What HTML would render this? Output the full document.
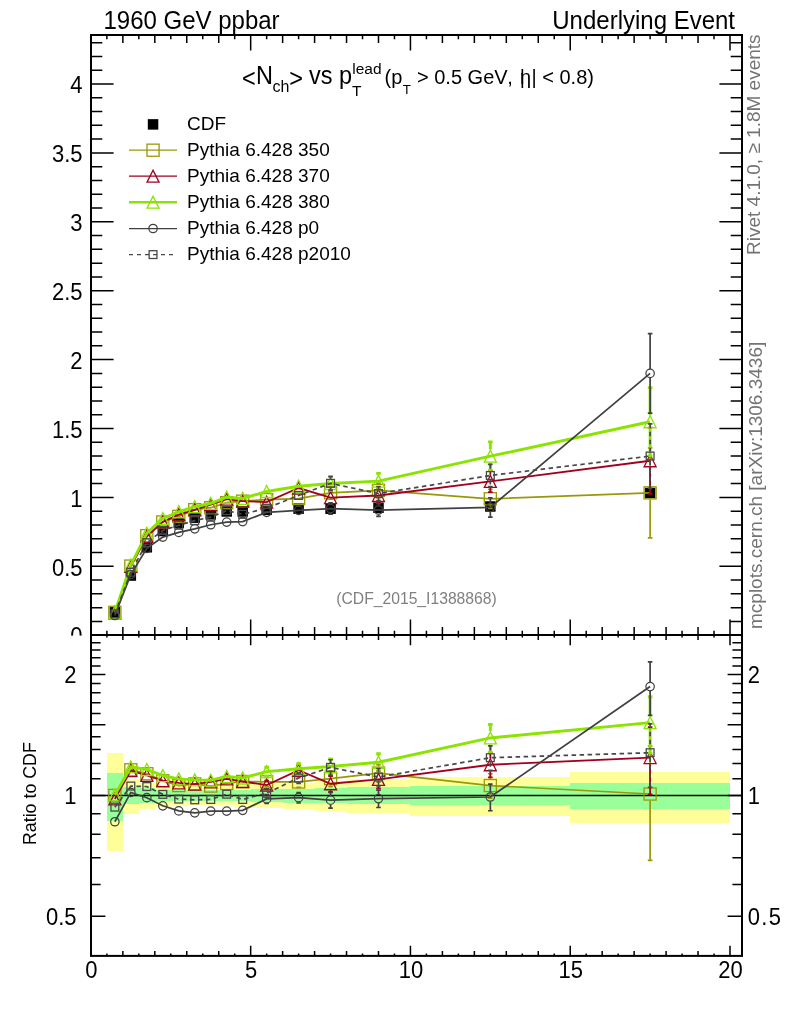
<!DOCTYPE html>
<html><head><meta charset="utf-8"><title>Nch vs pT lead</title>
<style>html,body{margin:0;padding:0;background:#fff;}svg{display:block;}</style>
</head><body>
<svg width="786" height="1024" viewBox="0 0 786 1024" font-family="Liberation Sans, Arial, sans-serif">
<rect width="786" height="1024" fill="#fff"/>
<g id="upper">
<rect x="109.62" y="607.08" width="10.5" height="10.5" fill="#000"/>
<rect x="125.59" y="570.28" width="10.5" height="10.5" fill="#000"/>
<rect x="141.57" y="542.03" width="10.5" height="10.5" fill="#000"/>
<rect x="157.55" y="525.77" width="10.5" height="10.5" fill="#000"/>
<rect x="173.53" y="517.64" width="10.5" height="10.5" fill="#000"/>
<rect x="189.5" y="512.41" width="10.5" height="10.5" fill="#000"/>
<rect x="205.48" y="509.1" width="10.5" height="10.5" fill="#000"/>
<rect x="221.46" y="506.21" width="10.5" height="10.5" fill="#000"/>
<rect x="237.44" y="506.21" width="10.5" height="10.5" fill="#000"/>
<rect x="261.4" y="504.55" width="10.5" height="10.5" fill="#000"/>
<rect x="293.36" y="503.45" width="10.5" height="10.5" fill="#000"/>
<rect x="325.31" y="503.45" width="10.5" height="10.5" fill="#000"/>
<rect x="373.25" y="502.49" width="10.5" height="10.5" fill="#000"/>
<rect x="485.09" y="501.24" width="10.5" height="10.5" fill="#000"/>
<rect x="644.86" y="487.74" width="10.5" height="10.5" fill="#000"/>
<polyline points="114.87,612.33 130.84,566.11 146.82,535.68 162.8,521.96 178.78,516.38 194.75,509.66 210.73,507.7 226.71,502.67 242.69,501.18 266.65,499.64 298.61,498.58 330.56,492.85 378.5,490.4 490.34,498.78 650.11,492.85" fill="none" stroke="#989808" stroke-width="1.7"/>
<rect x="108.82" y="606.28" width="12.1" height="12.1" fill="none" stroke="#989808" stroke-width="1.3"/>
<rect x="124.79" y="560.06" width="12.1" height="12.1" fill="none" stroke="#989808" stroke-width="1.3"/>
<rect x="140.77" y="529.63" width="12.1" height="12.1" fill="none" stroke="#989808" stroke-width="1.3"/>
<rect x="156.75" y="515.91" width="12.1" height="12.1" fill="none" stroke="#989808" stroke-width="1.3"/>
<rect x="172.73" y="510.33" width="12.1" height="12.1" fill="none" stroke="#989808" stroke-width="1.3"/>
<rect x="188.7" y="503.61" width="12.1" height="12.1" fill="none" stroke="#989808" stroke-width="1.3"/>
<rect x="204.68" y="501.65" width="12.1" height="12.1" fill="none" stroke="#989808" stroke-width="1.3"/>
<rect x="220.66" y="496.62" width="12.1" height="12.1" fill="none" stroke="#989808" stroke-width="1.3"/>
<rect x="236.64" y="495.13" width="12.1" height="12.1" fill="none" stroke="#989808" stroke-width="1.3"/>
<rect x="260.6" y="493.59" width="12.1" height="12.1" fill="none" stroke="#989808" stroke-width="1.3"/>
<rect x="292.56" y="492.53" width="12.1" height="12.1" fill="none" stroke="#989808" stroke-width="1.3"/>
<path d="" stroke="#989808" stroke-width="1.7" fill="none"/><path d="M328.26 486.45H332.86M328.26 499.26H332.86" stroke="#989808" stroke-width="1.7" fill="none"/>
<rect x="324.51" y="486.8" width="12.1" height="12.1" fill="none" stroke="#989808" stroke-width="1.3"/>
<path d="M378.5 483.16V483.7M378.5 497.1V497.64" stroke="#989808" stroke-width="1.7" fill="none"/><path d="M376.19 483.16H380.8M376.19 497.64H380.8" stroke="#989808" stroke-width="1.7" fill="none"/>
<rect x="372.44" y="484.35" width="12.1" height="12.1" fill="none" stroke="#989808" stroke-width="1.3"/>
<path d="M490.34 489.23V492.08M490.34 505.48V508.33" stroke="#989808" stroke-width="1.7" fill="none"/><path d="M488.04 489.23H492.64M488.04 508.33H492.64" stroke="#989808" stroke-width="1.7" fill="none"/>
<rect x="484.29" y="492.73" width="12.1" height="12.1" fill="none" stroke="#989808" stroke-width="1.3"/>
<path d="M650.11 447.87V486.15M650.11 499.55V537.83" stroke="#989808" stroke-width="1.7" fill="none"/><path d="M647.81 447.87H652.41M647.81 537.83H652.41" stroke="#989808" stroke-width="1.7" fill="none"/>
<rect x="644.06" y="486.8" width="12.1" height="12.1" fill="none" stroke="#989808" stroke-width="1.3"/>
<polyline points="114.87,612.78 130.84,566.4 146.82,536.56 162.8,521.86 178.78,514.58 194.75,509.78 210.73,504.68 226.71,499.2 242.69,501.18 266.65,502.15 298.61,488.03 330.56,497.61 378.5,495.5 490.34,481.42 650.11,460.75" fill="none" stroke="#a3001f" stroke-width="1.8"/>
<path d="M108.87 618.78L120.87 618.78L114.87 606.78Z" fill="none" stroke="#a3001f" stroke-width="1.3" stroke-linejoin="miter"/>
<path d="M124.84 572.4L136.84 572.4L130.84 560.4Z" fill="none" stroke="#a3001f" stroke-width="1.3" stroke-linejoin="miter"/>
<path d="M140.82 542.56L152.82 542.56L146.82 530.56Z" fill="none" stroke="#a3001f" stroke-width="1.3" stroke-linejoin="miter"/>
<path d="M156.8 527.86L168.8 527.86L162.8 515.86Z" fill="none" stroke="#a3001f" stroke-width="1.3" stroke-linejoin="miter"/>
<path d="M172.78 520.58L184.78 520.58L178.78 508.58Z" fill="none" stroke="#a3001f" stroke-width="1.3" stroke-linejoin="miter"/>
<path d="M188.75 515.78L200.75 515.78L194.75 503.78Z" fill="none" stroke="#a3001f" stroke-width="1.3" stroke-linejoin="miter"/>
<path d="M204.73 510.68L216.73 510.68L210.73 498.68Z" fill="none" stroke="#a3001f" stroke-width="1.3" stroke-linejoin="miter"/>
<path d="M220.71 505.2L232.71 505.2L226.71 493.2Z" fill="none" stroke="#a3001f" stroke-width="1.3" stroke-linejoin="miter"/>
<path d="M236.69 507.18L248.69 507.18L242.69 495.18Z" fill="none" stroke="#a3001f" stroke-width="1.3" stroke-linejoin="miter"/>
<path d="M260.65 508.15L272.65 508.15L266.65 496.15Z" fill="none" stroke="#a3001f" stroke-width="1.3" stroke-linejoin="miter"/>
<path d="M292.61 494.03L304.61 494.03L298.61 482.03Z" fill="none" stroke="#a3001f" stroke-width="1.3" stroke-linejoin="miter"/>
<path d="" stroke="#a3001f" stroke-width="1.8" fill="none"/><path d="M328.26 491.42H332.86M328.26 503.8H332.86" stroke="#a3001f" stroke-width="1.8" fill="none"/>
<path d="M324.56 503.61L336.56 503.61L330.56 491.61Z" fill="none" stroke="#a3001f" stroke-width="1.3" stroke-linejoin="miter"/>
<path d="M378.5 488.51V488.9M378.5 502.1V502.48" stroke="#a3001f" stroke-width="1.8" fill="none"/><path d="M376.19 488.51H380.8M376.19 502.48H380.8" stroke="#a3001f" stroke-width="1.8" fill="none"/>
<path d="M372.5 501.5L384.5 501.5L378.5 489.5Z" fill="none" stroke="#a3001f" stroke-width="1.3" stroke-linejoin="miter"/>
<path d="M490.34 470.65V474.82M490.34 488.02V492.18" stroke="#a3001f" stroke-width="1.8" fill="none"/><path d="M488.04 470.65H492.64M488.04 492.18H492.64" stroke="#a3001f" stroke-width="1.8" fill="none"/>
<path d="M484.34 487.42L496.34 487.42L490.34 475.42Z" fill="none" stroke="#a3001f" stroke-width="1.3" stroke-linejoin="miter"/>
<path d="M650.11 427.6V454.15M650.11 467.35V493.89" stroke="#a3001f" stroke-width="1.8" fill="none"/><path d="M647.81 427.6H652.41M647.81 493.89H652.41" stroke="#a3001f" stroke-width="1.8" fill="none"/>
<path d="M644.11 466.75L656.11 466.75L650.11 454.75Z" fill="none" stroke="#a3001f" stroke-width="1.3" stroke-linejoin="miter"/>
<polyline points="114.87,612.26 130.84,564.97 146.82,533.22 162.8,518.52 178.78,511.77 194.75,506.73 210.73,503.35 226.71,497.22 242.69,498.46 266.65,491.49 298.61,486.24 330.56,483.48 378.5,481.09 490.34,456.2 650.11,421.75" fill="none" stroke="#8ae400" stroke-width="2.9"/>
<path d="M108.87 618.26L120.87 618.26L114.87 606.26Z" fill="none" stroke="#8ae400" stroke-width="1.3" stroke-linejoin="miter"/>
<path d="M124.84 570.97L136.84 570.97L130.84 558.97Z" fill="none" stroke="#8ae400" stroke-width="1.3" stroke-linejoin="miter"/>
<path d="M140.82 539.22L152.82 539.22L146.82 527.22Z" fill="none" stroke="#8ae400" stroke-width="1.3" stroke-linejoin="miter"/>
<path d="M156.8 524.52L168.8 524.52L162.8 512.52Z" fill="none" stroke="#8ae400" stroke-width="1.3" stroke-linejoin="miter"/>
<path d="M172.78 517.77L184.78 517.77L178.78 505.77Z" fill="none" stroke="#8ae400" stroke-width="1.3" stroke-linejoin="miter"/>
<path d="M188.75 512.73L200.75 512.73L194.75 500.73Z" fill="none" stroke="#8ae400" stroke-width="1.3" stroke-linejoin="miter"/>
<path d="M204.73 509.35L216.73 509.35L210.73 497.35Z" fill="none" stroke="#8ae400" stroke-width="1.3" stroke-linejoin="miter"/>
<path d="M220.71 503.22L232.71 503.22L226.71 491.22Z" fill="none" stroke="#8ae400" stroke-width="1.3" stroke-linejoin="miter"/>
<path d="M236.69 504.46L248.69 504.46L242.69 492.46Z" fill="none" stroke="#8ae400" stroke-width="1.3" stroke-linejoin="miter"/>
<path d="M260.65 497.49L272.65 497.49L266.65 485.49Z" fill="none" stroke="#8ae400" stroke-width="1.3" stroke-linejoin="miter"/>
<path d="M292.61 492.24L304.61 492.24L298.61 480.24Z" fill="none" stroke="#8ae400" stroke-width="1.3" stroke-linejoin="miter"/>
<path d="M330.56 476.65V476.88M330.56 490.08V490.31" stroke="#8ae400" stroke-width="2.9" fill="none"/><path d="M328.26 476.65H332.86M328.26 490.31H332.86" stroke="#8ae400" stroke-width="2.9" fill="none"/>
<path d="M324.56 489.48L336.56 489.48L330.56 477.48Z" fill="none" stroke="#8ae400" stroke-width="1.3" stroke-linejoin="miter"/>
<path d="M378.5 473.39V474.49M378.5 487.69V488.8" stroke="#8ae400" stroke-width="2.9" fill="none"/><path d="M376.19 473.39H380.8M376.19 488.8H380.8" stroke="#8ae400" stroke-width="2.9" fill="none"/>
<path d="M372.5 487.09L384.5 487.09L378.5 475.09Z" fill="none" stroke="#8ae400" stroke-width="1.3" stroke-linejoin="miter"/>
<path d="M490.34 441.88V449.6M490.34 462.8V470.52" stroke="#8ae400" stroke-width="2.9" fill="none"/><path d="M488.04 441.88H492.64M488.04 470.52H492.64" stroke="#8ae400" stroke-width="2.9" fill="none"/>
<path d="M484.34 462.2L496.34 462.2L490.34 450.2Z" fill="none" stroke="#8ae400" stroke-width="1.3" stroke-linejoin="miter"/>
<path d="M650.11 387.6V415.15M650.11 428.35V455.9" stroke="#8ae400" stroke-width="2.9" fill="none"/><path d="M647.81 387.6H652.41M647.81 455.9H652.41" stroke="#8ae400" stroke-width="2.9" fill="none"/>
<path d="M644.11 427.75L656.11 427.75L650.11 415.75Z" fill="none" stroke="#8ae400" stroke-width="1.3" stroke-linejoin="miter"/>
<polyline points="114.87,615.53 130.84,574.52 146.82,548.43 162.8,537.07 178.78,532.44 194.75,528.82 210.73,524.74 226.71,522.1 242.69,521.6 266.65,512.31 298.61,510.34 330.56,508.56 378.5,510.03 490.34,507.46 650.11,373.38" fill="none" stroke="#404040" stroke-width="1.7"/>
<circle cx="114.87" cy="615.53" r="4.2" fill="none" stroke="#404040" stroke-width="1.25"/>
<circle cx="130.84" cy="574.52" r="4.2" fill="none" stroke="#404040" stroke-width="1.25"/>
<circle cx="146.82" cy="548.43" r="4.2" fill="none" stroke="#404040" stroke-width="1.25"/>
<circle cx="162.8" cy="537.07" r="4.2" fill="none" stroke="#404040" stroke-width="1.25"/>
<circle cx="178.78" cy="532.44" r="4.2" fill="none" stroke="#404040" stroke-width="1.25"/>
<circle cx="194.75" cy="528.82" r="4.2" fill="none" stroke="#404040" stroke-width="1.25"/>
<circle cx="210.73" cy="524.74" r="4.2" fill="none" stroke="#404040" stroke-width="1.25"/>
<circle cx="226.71" cy="522.1" r="4.2" fill="none" stroke="#404040" stroke-width="1.25"/>
<circle cx="242.69" cy="521.6" r="4.2" fill="none" stroke="#404040" stroke-width="1.25"/>
<circle cx="266.65" cy="512.31" r="4.2" fill="none" stroke="#404040" stroke-width="1.25"/>
<circle cx="298.61" cy="510.34" r="4.2" fill="none" stroke="#404040" stroke-width="1.25"/>
<path d="M330.56 502.86V504.06M330.56 513.06V514.26" stroke="#404040" stroke-width="1.7" fill="none"/><path d="M328.26 502.86H332.86M328.26 514.26H332.86" stroke="#404040" stroke-width="1.7" fill="none"/>
<circle cx="330.56" cy="508.56" r="4.2" fill="none" stroke="#404040" stroke-width="1.25"/>
<path d="M378.5 503.77V505.53M378.5 514.53V516.29" stroke="#404040" stroke-width="1.7" fill="none"/><path d="M376.19 503.77H380.8M376.19 516.29H380.8" stroke="#404040" stroke-width="1.7" fill="none"/>
<circle cx="378.5" cy="510.03" r="4.2" fill="none" stroke="#404040" stroke-width="1.25"/>
<path d="M490.34 497.75V502.96M490.34 511.96V517.17" stroke="#404040" stroke-width="1.7" fill="none"/><path d="M488.04 497.75H492.64M488.04 517.17H492.64" stroke="#404040" stroke-width="1.7" fill="none"/>
<circle cx="490.34" cy="507.46" r="4.2" fill="none" stroke="#404040" stroke-width="1.25"/>
<path d="M650.11 333.58V368.88M650.11 377.88V413.18" stroke="#404040" stroke-width="1.7" fill="none"/><path d="M647.81 333.58H652.41M647.81 413.18H652.41" stroke="#404040" stroke-width="1.7" fill="none"/>
<circle cx="650.11" cy="373.38" r="4.2" fill="none" stroke="#404040" stroke-width="1.25"/>
<polyline points="114.87,613.81 130.84,572.25 146.82,542.71 162.8,530.4 178.78,525.25 194.75,520.6 210.73,517.13 226.71,510.59 242.69,514.3 266.65,508.17 298.61,495.42 330.56,483.34 378.5,493.59 490.34,475.49 650.11,456.06" fill="none" stroke="#484848" stroke-width="1.7" stroke-dasharray="4.5 3.5"/>
<rect x="110.97" y="609.91" width="7.8" height="7.8" fill="none" stroke="#484848" stroke-width="1.3"/>
<rect x="126.94" y="568.35" width="7.8" height="7.8" fill="none" stroke="#484848" stroke-width="1.3"/>
<rect x="142.92" y="538.81" width="7.8" height="7.8" fill="none" stroke="#484848" stroke-width="1.3"/>
<rect x="158.9" y="526.5" width="7.8" height="7.8" fill="none" stroke="#484848" stroke-width="1.3"/>
<rect x="174.88" y="521.35" width="7.8" height="7.8" fill="none" stroke="#484848" stroke-width="1.3"/>
<rect x="190.85" y="516.7" width="7.8" height="7.8" fill="none" stroke="#484848" stroke-width="1.3"/>
<rect x="206.83" y="513.23" width="7.8" height="7.8" fill="none" stroke="#484848" stroke-width="1.3"/>
<rect x="222.81" y="506.69" width="7.8" height="7.8" fill="none" stroke="#484848" stroke-width="1.3"/>
<rect x="238.79" y="510.4" width="7.8" height="7.8" fill="none" stroke="#484848" stroke-width="1.3"/>
<rect x="262.75" y="504.27" width="7.8" height="7.8" fill="none" stroke="#484848" stroke-width="1.3"/>
<rect x="294.71" y="491.52" width="7.8" height="7.8" fill="none" stroke="#484848" stroke-width="1.3"/>
<path d="M330.56 476.51V478.84M330.56 487.84V490.18" stroke="#484848" stroke-width="1.7" fill="none" stroke-dasharray="4.5 3.5"/><path d="M328.26 476.51H332.86M328.26 490.18H332.86" stroke="#484848" stroke-width="1.7" fill="none"/>
<rect x="326.66" y="479.44" width="7.8" height="7.8" fill="none" stroke="#484848" stroke-width="1.3"/>
<path d="M378.5 486.51V489.09M378.5 498.09V500.67" stroke="#484848" stroke-width="1.7" fill="none" stroke-dasharray="4.5 3.5"/><path d="M376.19 486.51H380.8M376.19 500.67H380.8" stroke="#484848" stroke-width="1.7" fill="none"/>
<rect x="374.6" y="489.69" width="7.8" height="7.8" fill="none" stroke="#484848" stroke-width="1.3"/>
<path d="M490.34 464.31V470.99M490.34 479.99V486.67" stroke="#484848" stroke-width="1.7" fill="none" stroke-dasharray="4.5 3.5"/><path d="M488.04 464.31H492.64M488.04 486.67H492.64" stroke="#484848" stroke-width="1.7" fill="none"/>
<rect x="486.44" y="471.59" width="7.8" height="7.8" fill="none" stroke="#484848" stroke-width="1.3"/>
<path d="M650.11 423.81V451.56M650.11 460.56V488.31" stroke="#484848" stroke-width="1.7" fill="none" stroke-dasharray="4.5 3.5"/><path d="M647.81 423.81H652.41M647.81 488.31H652.41" stroke="#484848" stroke-width="1.7" fill="none"/>
<rect x="646.21" y="452.16" width="7.8" height="7.8" fill="none" stroke="#484848" stroke-width="1.3"/>
</g>
<text transform="translate(82.5,644.4) scale(1,1.09)" font-size="22" text-anchor="end">0</text>
<rect x="0" y="635.6" width="786" height="388.4" fill="#fff"/>
<g shape-rendering="crispEdges">
<rect x="107" y="753" width="16" height="98" fill="#ffff99"/>
<rect x="123" y="779" width="16" height="35" fill="#ffff99"/>
<rect x="139" y="783" width="16" height="26" fill="#ffff99"/>
<rect x="155" y="785" width="16" height="22" fill="#ffff99"/>
<rect x="171" y="786" width="16" height="20" fill="#ffff99"/>
<rect x="187" y="787" width="16" height="18" fill="#ffff99"/>
<rect x="203" y="786" width="16" height="19" fill="#ffff99"/>
<rect x="219" y="786" width="16" height="19" fill="#ffff99"/>
<rect x="235" y="784" width="16" height="23" fill="#ffff99"/>
<rect x="251" y="784" width="32" height="24" fill="#ffff99"/>
<rect x="283" y="783" width="32" height="26" fill="#ffff99"/>
<rect x="315" y="781" width="32" height="30" fill="#ffff99"/>
<rect x="347" y="779" width="63" height="34" fill="#ffff99"/>
<rect x="410" y="777" width="160" height="39" fill="#ffff99"/>
<rect x="570" y="772" width="160" height="51" fill="#ffff99"/>
<rect x="107" y="773" width="16" height="48" fill="#99ff99"/>
<rect x="123" y="787" width="16" height="17" fill="#99ff99"/>
<rect x="139" y="788" width="16" height="15" fill="#99ff99"/>
<rect x="155" y="790" width="16" height="11" fill="#99ff99"/>
<rect x="171" y="790" width="16" height="11" fill="#99ff99"/>
<rect x="187" y="790" width="16" height="11" fill="#99ff99"/>
<rect x="203" y="790" width="16" height="11" fill="#99ff99"/>
<rect x="219" y="790" width="16" height="11" fill="#99ff99"/>
<rect x="235" y="790" width="16" height="11" fill="#99ff99"/>
<rect x="251" y="789" width="32" height="13" fill="#99ff99"/>
<rect x="283" y="789" width="32" height="14" fill="#99ff99"/>
<rect x="315" y="788" width="32" height="15" fill="#99ff99"/>
<rect x="347" y="787" width="63" height="17" fill="#99ff99"/>
<rect x="410" y="786" width="160" height="19" fill="#99ff99"/>
<rect x="570" y="783" width="160" height="26" fill="#99ff99"/>
</g>
<path d="M91 795.4H742" stroke="#000" stroke-width="1.5"/>
<polyline points="114.87,795.4 130.84,769.8 146.82,773.76 162.8,780.84 178.78,785.56 194.75,783.92 210.73,786.06 226.71,783.43 242.69,781.49 266.65,781.81 298.61,781.97 330.56,778.61 378.5,773.15 490.34,785.56 650.11,794.01" fill="none" stroke="#989808" stroke-width="1.7"/>
<rect x="108.82" y="789.35" width="12.1" height="12.1" fill="none" stroke="#989808" stroke-width="1.3"/>
<rect x="124.79" y="763.75" width="12.1" height="12.1" fill="none" stroke="#989808" stroke-width="1.3"/>
<rect x="140.77" y="767.71" width="12.1" height="12.1" fill="none" stroke="#989808" stroke-width="1.3"/>
<rect x="156.75" y="774.79" width="12.1" height="12.1" fill="none" stroke="#989808" stroke-width="1.3"/>
<rect x="172.73" y="779.51" width="12.1" height="12.1" fill="none" stroke="#989808" stroke-width="1.3"/>
<rect x="188.7" y="777.87" width="12.1" height="12.1" fill="none" stroke="#989808" stroke-width="1.3"/>
<rect x="204.68" y="780.01" width="12.1" height="12.1" fill="none" stroke="#989808" stroke-width="1.3"/>
<rect x="220.66" y="777.38" width="12.1" height="12.1" fill="none" stroke="#989808" stroke-width="1.3"/>
<rect x="236.64" y="775.44" width="12.1" height="12.1" fill="none" stroke="#989808" stroke-width="1.3"/>
<path d="" stroke="#989808" stroke-width="1.7" fill="none"/><path d="M264.35 777.5H268.95M264.35 786.23H268.95" stroke="#989808" stroke-width="1.7" fill="none"/>
<rect x="260.6" y="775.76" width="12.1" height="12.1" fill="none" stroke="#989808" stroke-width="1.3"/>
<path d="" stroke="#989808" stroke-width="1.7" fill="none"/><path d="M296.31 776.81H300.91M296.31 787.29H300.91" stroke="#989808" stroke-width="1.7" fill="none"/>
<rect x="292.56" y="775.92" width="12.1" height="12.1" fill="none" stroke="#989808" stroke-width="1.3"/>
<path d="M330.56 770.93V771.91M330.56 785.31V786.64" stroke="#989808" stroke-width="1.7" fill="none"/><path d="M328.26 770.93H332.86M328.26 786.64H332.86" stroke="#989808" stroke-width="1.7" fill="none"/>
<rect x="324.51" y="772.56" width="12.1" height="12.1" fill="none" stroke="#989808" stroke-width="1.3"/>
<path d="M378.5 764.64V766.45M378.5 779.85V782.1" stroke="#989808" stroke-width="1.7" fill="none"/><path d="M376.19 764.64H380.8M376.19 782.1H380.8" stroke="#989808" stroke-width="1.7" fill="none"/>
<rect x="372.44" y="767.1" width="12.1" height="12.1" fill="none" stroke="#989808" stroke-width="1.3"/>
<path d="M490.34 773.76V778.86M490.34 792.26V798.23" stroke="#989808" stroke-width="1.7" fill="none"/><path d="M488.04 773.76H492.64M488.04 798.23H492.64" stroke="#989808" stroke-width="1.7" fill="none"/>
<rect x="484.29" y="779.51" width="12.1" height="12.1" fill="none" stroke="#989808" stroke-width="1.3"/>
<path d="M650.11 746.09V787.31M650.11 800.71V860.28" stroke="#989808" stroke-width="1.7" fill="none"/><path d="M647.81 746.09H652.41M647.81 860.28H652.41" stroke="#989808" stroke-width="1.7" fill="none"/>
<rect x="644.06" y="787.96" width="12.1" height="12.1" fill="none" stroke="#989808" stroke-width="1.3"/>
<polyline points="114.87,798.93 130.84,770.56 146.82,775.31 162.8,780.68 178.78,782.94 194.75,784.08 210.73,781.97 226.71,778.93 242.69,781.49 266.65,785.07 298.61,770.25 330.56,783.76 378.5,779.4 490.34,764.75 650.11,757.58" fill="none" stroke="#a3001f" stroke-width="1.8"/>
<path d="M108.87 804.93L120.87 804.93L114.87 792.93Z" fill="none" stroke="#a3001f" stroke-width="1.3" stroke-linejoin="miter"/>
<path d="M124.84 776.56L136.84 776.56L130.84 764.56Z" fill="none" stroke="#a3001f" stroke-width="1.3" stroke-linejoin="miter"/>
<path d="M140.82 781.31L152.82 781.31L146.82 769.31Z" fill="none" stroke="#a3001f" stroke-width="1.3" stroke-linejoin="miter"/>
<path d="M156.8 786.68L168.8 786.68L162.8 774.68Z" fill="none" stroke="#a3001f" stroke-width="1.3" stroke-linejoin="miter"/>
<path d="M172.78 788.94L184.78 788.94L178.78 776.94Z" fill="none" stroke="#a3001f" stroke-width="1.3" stroke-linejoin="miter"/>
<path d="M188.75 790.08L200.75 790.08L194.75 778.08Z" fill="none" stroke="#a3001f" stroke-width="1.3" stroke-linejoin="miter"/>
<path d="M204.73 787.97L216.73 787.97L210.73 775.97Z" fill="none" stroke="#a3001f" stroke-width="1.3" stroke-linejoin="miter"/>
<path d="M220.71 784.93L232.71 784.93L226.71 772.93Z" fill="none" stroke="#a3001f" stroke-width="1.3" stroke-linejoin="miter"/>
<path d="M236.69 787.49L248.69 787.49L242.69 775.49Z" fill="none" stroke="#a3001f" stroke-width="1.3" stroke-linejoin="miter"/>
<path d="" stroke="#a3001f" stroke-width="1.8" fill="none"/><path d="M264.35 780.76H268.95M264.35 789.49H268.95" stroke="#a3001f" stroke-width="1.8" fill="none"/>
<path d="M260.65 791.07L272.65 791.07L266.65 779.07Z" fill="none" stroke="#a3001f" stroke-width="1.3" stroke-linejoin="miter"/>
<path d="" stroke="#a3001f" stroke-width="1.8" fill="none"/><path d="M296.31 765.1H300.91M296.31 775.57H300.91" stroke="#a3001f" stroke-width="1.8" fill="none"/>
<path d="M292.61 776.25L304.61 776.25L298.61 764.25Z" fill="none" stroke="#a3001f" stroke-width="1.3" stroke-linejoin="miter"/>
<path d="M330.56 776.08V777.16M330.56 790.36V791.79" stroke="#a3001f" stroke-width="1.8" fill="none"/><path d="M328.26 776.08H332.86M328.26 791.79H332.86" stroke="#a3001f" stroke-width="1.8" fill="none"/>
<path d="M324.56 789.76L336.56 789.76L330.56 777.76Z" fill="none" stroke="#a3001f" stroke-width="1.3" stroke-linejoin="miter"/>
<path d="M378.5 770.89V772.8M378.5 786V788.35" stroke="#a3001f" stroke-width="1.8" fill="none"/><path d="M376.19 770.89H380.8M376.19 788.35H380.8" stroke="#a3001f" stroke-width="1.8" fill="none"/>
<path d="M372.5 785.4L384.5 785.4L378.5 773.4Z" fill="none" stroke="#a3001f" stroke-width="1.3" stroke-linejoin="miter"/>
<path d="M490.34 752.95V758.15M490.34 771.35V777.42" stroke="#a3001f" stroke-width="1.8" fill="none"/><path d="M488.04 752.95H492.64M488.04 777.42H492.64" stroke="#a3001f" stroke-width="1.8" fill="none"/>
<path d="M484.34 770.75L496.34 770.75L490.34 758.75Z" fill="none" stroke="#a3001f" stroke-width="1.3" stroke-linejoin="miter"/>
<path d="M650.11 727.23V750.98M650.11 764.18V794.35" stroke="#a3001f" stroke-width="1.8" fill="none"/><path d="M647.81 727.23H652.41M647.81 794.35H652.41" stroke="#a3001f" stroke-width="1.8" fill="none"/>
<path d="M644.11 763.58L656.11 763.58L650.11 751.58Z" fill="none" stroke="#a3001f" stroke-width="1.3" stroke-linejoin="miter"/>
<polyline points="114.87,794.88 130.84,766.96 146.82,769.5 162.8,775.62 178.78,778.93 194.75,779.88 210.73,780.2 226.71,776.4 242.69,777.98 266.65,771.62 298.61,768.75 330.56,766.52 378.5,762.28 490.34,737.94 650.11,722.68" fill="none" stroke="#8ae400" stroke-width="2.9"/>
<path d="M108.87 800.88L120.87 800.88L114.87 788.88Z" fill="none" stroke="#8ae400" stroke-width="1.3" stroke-linejoin="miter"/>
<path d="M124.84 772.96L136.84 772.96L130.84 760.96Z" fill="none" stroke="#8ae400" stroke-width="1.3" stroke-linejoin="miter"/>
<path d="M140.82 775.5L152.82 775.5L146.82 763.5Z" fill="none" stroke="#8ae400" stroke-width="1.3" stroke-linejoin="miter"/>
<path d="M156.8 781.62L168.8 781.62L162.8 769.62Z" fill="none" stroke="#8ae400" stroke-width="1.3" stroke-linejoin="miter"/>
<path d="M172.78 784.93L184.78 784.93L178.78 772.93Z" fill="none" stroke="#8ae400" stroke-width="1.3" stroke-linejoin="miter"/>
<path d="M188.75 785.88L200.75 785.88L194.75 773.88Z" fill="none" stroke="#8ae400" stroke-width="1.3" stroke-linejoin="miter"/>
<path d="M204.73 786.2L216.73 786.2L210.73 774.2Z" fill="none" stroke="#8ae400" stroke-width="1.3" stroke-linejoin="miter"/>
<path d="M220.71 782.4L232.71 782.4L226.71 770.4Z" fill="none" stroke="#8ae400" stroke-width="1.3" stroke-linejoin="miter"/>
<path d="M236.69 783.98L248.69 783.98L242.69 771.98Z" fill="none" stroke="#8ae400" stroke-width="1.3" stroke-linejoin="miter"/>
<path d="" stroke="#8ae400" stroke-width="2.9" fill="none"/><path d="M264.35 767.31H268.95M264.35 776.04H268.95" stroke="#8ae400" stroke-width="2.9" fill="none"/>
<path d="M260.65 777.62L272.65 777.62L266.65 765.62Z" fill="none" stroke="#8ae400" stroke-width="1.3" stroke-linejoin="miter"/>
<path d="" stroke="#8ae400" stroke-width="2.9" fill="none"/><path d="M296.31 763.59H300.91M296.31 774.07H300.91" stroke="#8ae400" stroke-width="2.9" fill="none"/>
<path d="M292.61 774.75L304.61 774.75L298.61 762.75Z" fill="none" stroke="#8ae400" stroke-width="1.3" stroke-linejoin="miter"/>
<path d="M330.56 758.84V759.92M330.56 773.12V774.55" stroke="#8ae400" stroke-width="2.9" fill="none"/><path d="M328.26 758.84H332.86M328.26 774.55H332.86" stroke="#8ae400" stroke-width="2.9" fill="none"/>
<path d="M324.56 772.52L336.56 772.52L330.56 760.52Z" fill="none" stroke="#8ae400" stroke-width="1.3" stroke-linejoin="miter"/>
<path d="M378.5 753.77V755.68M378.5 768.88V771.23" stroke="#8ae400" stroke-width="2.9" fill="none"/><path d="M376.19 753.77H380.8M376.19 771.23H380.8" stroke="#8ae400" stroke-width="2.9" fill="none"/>
<path d="M372.5 768.28L384.5 768.28L378.5 756.28Z" fill="none" stroke="#8ae400" stroke-width="1.3" stroke-linejoin="miter"/>
<path d="M490.34 724.51V731.34M490.34 744.54V752.49" stroke="#8ae400" stroke-width="2.9" fill="none"/><path d="M488.04 724.51H492.64M488.04 752.49H492.64" stroke="#8ae400" stroke-width="2.9" fill="none"/>
<path d="M484.34 743.94L496.34 743.94L490.34 731.94Z" fill="none" stroke="#8ae400" stroke-width="1.3" stroke-linejoin="miter"/>
<path d="M650.11 696.78V716.08M650.11 729.28V753.1" stroke="#8ae400" stroke-width="2.9" fill="none"/><path d="M647.81 696.78H652.41M647.81 753.1H652.41" stroke="#8ae400" stroke-width="2.9" fill="none"/>
<path d="M644.11 728.68L656.11 728.68L650.11 716.68Z" fill="none" stroke="#8ae400" stroke-width="1.3" stroke-linejoin="miter"/>
<polyline points="114.87,821.72 130.84,792.46 146.82,797.68 162.8,805.83 178.78,810.9 194.75,812.82 210.73,811.09 226.71,811.09 242.69,810.33 266.65,798.93 298.61,797.68 330.56,800.18 378.5,798.57 490.34,796.98 650.11,686.55" fill="none" stroke="#404040" stroke-width="1.7"/>
<circle cx="114.87" cy="821.72" r="4.2" fill="none" stroke="#404040" stroke-width="1.25"/>
<circle cx="130.84" cy="792.46" r="4.2" fill="none" stroke="#404040" stroke-width="1.25"/>
<circle cx="146.82" cy="797.68" r="4.2" fill="none" stroke="#404040" stroke-width="1.25"/>
<circle cx="162.8" cy="805.83" r="4.2" fill="none" stroke="#404040" stroke-width="1.25"/>
<circle cx="178.78" cy="810.9" r="4.2" fill="none" stroke="#404040" stroke-width="1.25"/>
<circle cx="194.75" cy="812.82" r="4.2" fill="none" stroke="#404040" stroke-width="1.25"/>
<circle cx="210.73" cy="811.09" r="4.2" fill="none" stroke="#404040" stroke-width="1.25"/>
<circle cx="226.71" cy="811.09" r="4.2" fill="none" stroke="#404040" stroke-width="1.25"/>
<circle cx="242.69" cy="810.33" r="4.2" fill="none" stroke="#404040" stroke-width="1.25"/>
<path d="" stroke="#404040" stroke-width="1.7" fill="none"/><path d="M264.35 794.62H268.95M264.35 803.34H268.95" stroke="#404040" stroke-width="1.7" fill="none"/>
<circle cx="266.65" cy="798.93" r="4.2" fill="none" stroke="#404040" stroke-width="1.25"/>
<path d="M298.61 792.53V793.18M298.61 802.18V803" stroke="#404040" stroke-width="1.7" fill="none"/><path d="M296.31 792.53H300.91M296.31 803H300.91" stroke="#404040" stroke-width="1.7" fill="none"/>
<circle cx="298.61" cy="797.68" r="4.2" fill="none" stroke="#404040" stroke-width="1.25"/>
<path d="M330.56 792.5V795.68M330.56 804.68V808.21" stroke="#404040" stroke-width="1.7" fill="none"/><path d="M328.26 792.5H332.86M328.26 808.21H332.86" stroke="#404040" stroke-width="1.7" fill="none"/>
<circle cx="330.56" cy="800.18" r="4.2" fill="none" stroke="#404040" stroke-width="1.25"/>
<path d="M378.5 790.06V794.07M378.5 803.07V807.52" stroke="#404040" stroke-width="1.7" fill="none"/><path d="M376.19 790.06H380.8M376.19 807.52H380.8" stroke="#404040" stroke-width="1.7" fill="none"/>
<circle cx="378.5" cy="798.57" r="4.2" fill="none" stroke="#404040" stroke-width="1.25"/>
<path d="M490.34 784.2V792.48M490.34 801.48V810.77" stroke="#404040" stroke-width="1.7" fill="none"/><path d="M488.04 784.2H492.64M488.04 810.77H492.64" stroke="#404040" stroke-width="1.7" fill="none"/>
<circle cx="490.34" cy="796.98" r="4.2" fill="none" stroke="#404040" stroke-width="1.25"/>
<path d="M650.11 661.86V682.05M650.11 691.05V715.32" stroke="#404040" stroke-width="1.7" fill="none"/><path d="M647.81 661.86H652.41M647.81 715.32H652.41" stroke="#404040" stroke-width="1.7" fill="none"/>
<circle cx="650.11" cy="686.55" r="4.2" fill="none" stroke="#404040" stroke-width="1.25"/>
<polyline points="114.87,807.13 130.84,786.06 146.82,786.55 162.8,794.36 178.78,799.1 194.75,799.82 210.73,799.46 226.71,794.18 242.69,799.46 266.65,793.15 298.61,777.98 330.56,767.41 378.5,777.03 490.34,757.72 650.11,752.73" fill="none" stroke="#484848" stroke-width="1.7" stroke-dasharray="4.5 3.5"/>
<rect x="110.97" y="803.23" width="7.8" height="7.8" fill="none" stroke="#484848" stroke-width="1.3"/>
<rect x="126.94" y="782.16" width="7.8" height="7.8" fill="none" stroke="#484848" stroke-width="1.3"/>
<rect x="142.92" y="782.65" width="7.8" height="7.8" fill="none" stroke="#484848" stroke-width="1.3"/>
<rect x="158.9" y="790.46" width="7.8" height="7.8" fill="none" stroke="#484848" stroke-width="1.3"/>
<rect x="174.88" y="795.2" width="7.8" height="7.8" fill="none" stroke="#484848" stroke-width="1.3"/>
<rect x="190.85" y="795.92" width="7.8" height="7.8" fill="none" stroke="#484848" stroke-width="1.3"/>
<rect x="206.83" y="795.56" width="7.8" height="7.8" fill="none" stroke="#484848" stroke-width="1.3"/>
<rect x="222.81" y="790.28" width="7.8" height="7.8" fill="none" stroke="#484848" stroke-width="1.3"/>
<rect x="238.79" y="795.56" width="7.8" height="7.8" fill="none" stroke="#484848" stroke-width="1.3"/>
<path d="" stroke="#484848" stroke-width="1.7" fill="none" stroke-dasharray="4.5 3.5"/><path d="M264.35 788.84H268.95M264.35 797.56H268.95" stroke="#484848" stroke-width="1.7" fill="none"/>
<rect x="262.75" y="789.25" width="7.8" height="7.8" fill="none" stroke="#484848" stroke-width="1.3"/>
<path d="M298.61 772.82V773.48M298.61 782.48V783.29" stroke="#484848" stroke-width="1.7" fill="none" stroke-dasharray="4.5 3.5"/><path d="M296.31 772.82H300.91M296.31 783.29H300.91" stroke="#484848" stroke-width="1.7" fill="none"/>
<rect x="294.71" y="774.08" width="7.8" height="7.8" fill="none" stroke="#484848" stroke-width="1.3"/>
<path d="M330.56 759.73V762.91M330.56 771.91V775.44" stroke="#484848" stroke-width="1.7" fill="none" stroke-dasharray="4.5 3.5"/><path d="M328.26 759.73H332.86M328.26 775.44H332.86" stroke="#484848" stroke-width="1.7" fill="none"/>
<rect x="326.66" y="763.51" width="7.8" height="7.8" fill="none" stroke="#484848" stroke-width="1.3"/>
<path d="M378.5 768.52V772.53M378.5 781.53V785.98" stroke="#484848" stroke-width="1.7" fill="none" stroke-dasharray="4.5 3.5"/><path d="M376.19 768.52H380.8M376.19 785.98H380.8" stroke="#484848" stroke-width="1.7" fill="none"/>
<rect x="374.6" y="773.13" width="7.8" height="7.8" fill="none" stroke="#484848" stroke-width="1.3"/>
<path d="M490.34 745.92V753.22M490.34 762.22V770.39" stroke="#484848" stroke-width="1.7" fill="none" stroke-dasharray="4.5 3.5"/><path d="M488.04 745.92H492.64M488.04 770.39H492.64" stroke="#484848" stroke-width="1.7" fill="none"/>
<rect x="486.44" y="753.82" width="7.8" height="7.8" fill="none" stroke="#484848" stroke-width="1.3"/>
<path d="M650.11 723.85V748.23M650.11 757.23V787.36" stroke="#484848" stroke-width="1.7" fill="none" stroke-dasharray="4.5 3.5"/><path d="M647.81 723.85H652.41M647.81 787.36H652.41" stroke="#484848" stroke-width="1.7" fill="none"/>
<rect x="646.21" y="748.83" width="7.8" height="7.8" fill="none" stroke="#484848" stroke-width="1.3"/>
<g stroke="#000" fill="none">
<rect x="91" y="35" width="651" height="600" stroke-width="2"/>
<rect x="91" y="635" width="651" height="320.9" stroke-width="2"/>
</g>
<path d="M91 635.2h22.6M742 635.2h-22.6M91 621.42h11.3M742 621.42h-11.3M91 607.64h11.3M742 607.64h-11.3M91 593.86h11.3M742 593.86h-11.3M91 580.08h11.3M742 580.08h-11.3M91 566.3h22.6M742 566.3h-22.6M91 552.52h11.3M742 552.52h-11.3M91 538.74h11.3M742 538.74h-11.3M91 524.96h11.3M742 524.96h-11.3M91 511.18h11.3M742 511.18h-11.3M91 497.4h22.6M742 497.4h-22.6M91 483.62h11.3M742 483.62h-11.3M91 469.84h11.3M742 469.84h-11.3M91 456.06h11.3M742 456.06h-11.3M91 442.28h11.3M742 442.28h-11.3M91 428.5h22.6M742 428.5h-22.6M91 414.72h11.3M742 414.72h-11.3M91 400.94h11.3M742 400.94h-11.3M91 387.16h11.3M742 387.16h-11.3M91 373.38h11.3M742 373.38h-11.3M91 359.6h22.6M742 359.6h-22.6M91 345.82h11.3M742 345.82h-11.3M91 332.04h11.3M742 332.04h-11.3M91 318.26h11.3M742 318.26h-11.3M91 304.48h11.3M742 304.48h-11.3M91 290.7h22.6M742 290.7h-22.6M91 276.92h11.3M742 276.92h-11.3M91 263.14h11.3M742 263.14h-11.3M91 249.36h11.3M742 249.36h-11.3M91 235.58h11.3M742 235.58h-11.3M91 221.8h22.6M742 221.8h-22.6M91 208.02h11.3M742 208.02h-11.3M91 194.24h11.3M742 194.24h-11.3M91 180.46h11.3M742 180.46h-11.3M91 166.68h11.3M742 166.68h-11.3M91 152.9h22.6M742 152.9h-22.6M91 139.12h11.3M742 139.12h-11.3M91 125.34h11.3M742 125.34h-11.3M91 111.56h11.3M742 111.56h-11.3M91 97.78h11.3M742 97.78h-11.3M91 84h22.6M742 84h-22.6M91 70.22h11.3M742 70.22h-11.3M91 56.44h11.3M742 56.44h-11.3M91 42.66h11.3M742 42.66h-11.3M90.9 35v15.4M90.9 635v-15.4M106.88 35v4.3M106.88 635v-4.3M122.86 35v8M122.86 635v-8M138.83 35v4.3M138.83 635v-4.3M154.81 35v8M154.81 635v-8M170.79 35v4.3M170.79 635v-4.3M186.76 35v8M186.76 635v-8M202.74 35v4.3M202.74 635v-4.3M218.72 35v8M218.72 635v-8M234.7 35v4.3M234.7 635v-4.3M250.67 35v15.4M250.67 635v-15.4M266.65 35v4.3M266.65 635v-4.3M282.63 35v8M282.63 635v-8M298.61 35v4.3M298.61 635v-4.3M314.59 35v8M314.59 635v-8M330.56 35v4.3M330.56 635v-4.3M346.54 35v8M346.54 635v-8M362.52 35v4.3M362.52 635v-4.3M378.5 35v8M378.5 635v-8M394.47 35v4.3M394.47 635v-4.3M410.45 35v15.4M410.45 635v-15.4M426.43 35v4.3M426.43 635v-4.3M442.4 35v8M442.4 635v-8M458.38 35v4.3M458.38 635v-4.3M474.36 35v8M474.36 635v-8M490.34 35v4.3M490.34 635v-4.3M506.31 35v8M506.31 635v-8M522.29 35v4.3M522.29 635v-4.3M538.27 35v8M538.27 635v-8M554.25 35v4.3M554.25 635v-4.3M570.23 35v15.4M570.23 635v-15.4M586.2 35v4.3M586.2 635v-4.3M602.18 35v8M602.18 635v-8M618.16 35v4.3M618.16 635v-4.3M634.13 35v8M634.13 635v-8M650.11 35v4.3M650.11 635v-4.3M666.09 35v8M666.09 635v-8M682.07 35v4.3M682.07 635v-4.3M698.04 35v8M698.04 635v-8M714.02 35v4.3M714.02 635v-4.3M730 35v15.4M730 635v-15.4M90.9 635v10.2M90.9 956v-10.2M106.88 635v2.6M106.88 956v-2.6M122.86 635v5M122.86 956v-5M138.83 635v2.6M138.83 956v-2.6M154.81 635v5M154.81 956v-5M170.79 635v2.6M170.79 956v-2.6M186.76 635v5M186.76 956v-5M202.74 635v2.6M202.74 956v-2.6M218.72 635v5M218.72 956v-5M234.7 635v2.6M234.7 956v-2.6M250.67 635v10.2M250.67 956v-10.2M266.65 635v2.6M266.65 956v-2.6M282.63 635v5M282.63 956v-5M298.61 635v2.6M298.61 956v-2.6M314.59 635v5M314.59 956v-5M330.56 635v2.6M330.56 956v-2.6M346.54 635v5M346.54 956v-5M362.52 635v2.6M362.52 956v-2.6M378.5 635v5M378.5 956v-5M394.47 635v2.6M394.47 956v-2.6M410.45 635v10.2M410.45 956v-10.2M426.43 635v2.6M426.43 956v-2.6M442.4 635v5M442.4 956v-5M458.38 635v2.6M458.38 956v-2.6M474.36 635v5M474.36 956v-5M490.34 635v2.6M490.34 956v-2.6M506.31 635v5M506.31 956v-5M522.29 635v2.6M522.29 956v-2.6M538.27 635v5M538.27 956v-5M554.25 635v2.6M554.25 956v-2.6M570.23 635v10.2M570.23 956v-10.2M586.2 635v2.6M586.2 956v-2.6M602.18 635v5M602.18 956v-5M618.16 635v2.6M618.16 956v-2.6M634.13 635v5M634.13 956v-5M650.11 635v2.6M650.11 956v-2.6M666.09 635v5M666.09 956v-5M682.07 635v2.6M682.07 956v-2.6M698.04 635v5M698.04 956v-5M714.02 635v2.6M714.02 956v-2.6M730 635v10.2M730 956v-10.2M91 916.35h14.4M742 916.35h-14.4M91 884.54h9.6M742 884.54h-9.6M91 857.64h9.6M742 857.64h-9.6M91 834.34h9.6M742 834.34h-9.6M91 813.79h9.6M742 813.79h-9.6M91 795.4h14.4M742 795.4h-14.4M91 778.77h9.6M742 778.77h-9.6M91 763.58h9.6M742 763.58h-9.6M91 749.62h9.6M742 749.62h-9.6M91 736.69h9.6M742 736.69h-9.6M91 724.65h14.4M742 724.65h-14.4M91 713.38h9.6M742 713.38h-9.6M91 702.81h9.6M742 702.81h-9.6M91 692.83h9.6M742 692.83h-9.6M91 683.4h9.6M742 683.4h-9.6M91 674.45h14.4M742 674.45h-14.4M91 665.93h9.6M742 665.93h-9.6M91 657.81h9.6M742 657.81h-9.6M91 650.06h9.6M742 650.06h-9.6M91 642.63h9.6M742 642.63h-9.6" stroke="#000" stroke-width="1.5" fill="none"/>
<text transform="translate(82.5,575.5) scale(1,1.09)" font-size="22" text-anchor="end">0.5</text>
<text transform="translate(82.5,506.6) scale(1,1.09)" font-size="22" text-anchor="end">1</text>
<text transform="translate(82.5,437.7) scale(1,1.09)" font-size="22" text-anchor="end">1.5</text>
<text transform="translate(82.5,368.8) scale(1,1.09)" font-size="22" text-anchor="end">2</text>
<text transform="translate(82.5,299.9) scale(1,1.09)" font-size="22" text-anchor="end">2.5</text>
<text transform="translate(82.5,231) scale(1,1.09)" font-size="22" text-anchor="end">3</text>
<text transform="translate(82.5,162.1) scale(1,1.09)" font-size="22" text-anchor="end">3.5</text>
<text transform="translate(82.5,93.2) scale(1,1.09)" font-size="22" text-anchor="end">4</text>
<text transform="translate(76.5,924.75) scale(1,1.125)" font-size="22" text-anchor="end">0.5</text>
<text transform="translate(747.7,924.75) scale(1,1.125)" font-size="22" textLength="33.3" lengthAdjust="spacing">0.5</text>
<text transform="translate(76.5,803.8) scale(1,1.125)" font-size="22" text-anchor="end">1</text>
<text transform="translate(747.7,803.8) scale(1,1.125)" font-size="22">1</text>
<text transform="translate(76.5,682.85) scale(1,1.125)" font-size="22" text-anchor="end">2</text>
<text transform="translate(747.7,682.85) scale(1,1.125)" font-size="22">2</text>
<text transform="translate(91.4,978.3) scale(1,1.125)" font-size="22" text-anchor="middle">0</text>
<text transform="translate(251.17,978.3) scale(1,1.125)" font-size="22" text-anchor="middle">5</text>
<text transform="translate(410.95,978.3) scale(1,1.125)" font-size="22" text-anchor="middle">10</text>
<text transform="translate(570.73,978.3) scale(1,1.125)" font-size="22" text-anchor="middle">15</text>
<text transform="translate(730.5,978.3) scale(1,1.125)" font-size="22" text-anchor="middle">20</text>
<text transform="translate(36.3,845) rotate(-90)" font-size="17.8">Ratio to CDF</text>
<text transform="translate(103.5,29.2) scale(1,1.07)" font-size="24">1960 GeV ppbar</text>
<text transform="translate(735,29.2) scale(1,1.07)" font-size="24" text-anchor="end">Underlying Event</text>
<text transform="translate(760.1,255) rotate(-90)" font-size="19" fill="#737373">Rivet 4.1.0, ≥ 1.8M events</text>
<text transform="translate(762.3,629) rotate(-90)" font-size="19" fill="#737373">mcplots.cern.ch [arXiv:1306.3436]</text>
<text x="416.5" y="604.2" font-size="15.7" fill="#808080" text-anchor="middle">(CDF_2015_I1388868)</text>
<text transform="translate(242,86.9) scale(1,1.07)" font-size="23.5">&lt;</text>
<text transform="translate(255.9,83.6) scale(1,1.07)" font-size="23.5">N</text>
<text x="272.6" y="92" font-size="16">ch</text>
<text transform="translate(289.2,86.9) scale(1,1.07)" font-size="23.5">&gt;</text>
<text transform="translate(308.9,83.6) scale(1,1.07)" font-size="23.5">vs p</text>
<text x="352.3" y="74.1" font-size="15.5">lead</text>
<text x="352" y="96.3" font-size="15.5">T</text>
<text x="384.5" y="84.3" font-size="20">(p</text>
<text x="402.8" y="94.4" font-size="13.3">T</text>
<text x="417" y="84.3" font-size="20">&gt; 0.5 GeV</text>
<text x="507.3" y="84.3" font-size="20">,</text>
<text x="519.8" y="84.3" font-size="20">|</text>
<text x="520" y="84.3" font-size="20">η</text>
<text x="531.5" y="84.3" font-size="20">| &lt; 0.8)</text>
<rect x="147.8" y="119.15" width="10.5" height="10.5" fill="#000"/>
<path d="M129 150.2H177" stroke="#989808" stroke-width="1.25"/>
<rect x="147" y="144.15" width="12.1" height="12.1" fill="none" stroke="#989808" stroke-width="1.3"/>
<path d="M129 176.2H177" stroke="#a3001f" stroke-width="1.25"/>
<path d="M147.05 182.2L159.05 182.2L153.05 170.2Z" fill="none" stroke="#a3001f" stroke-width="1.3" stroke-linejoin="miter"/>
<path d="M129 202.2H177" stroke="#8ae400" stroke-width="2.4"/>
<path d="M147.05 208.2L159.05 208.2L153.05 196.2Z" fill="none" stroke="#8ae400" stroke-width="1.3" stroke-linejoin="miter"/>
<path d="M129 228.5H177" stroke="#404040" stroke-width="1.25"/>
<circle cx="153.05" cy="228.5" r="4.2" fill="none" stroke="#404040" stroke-width="1.25"/>
<path d="M129 254.6H177" stroke="#484848" stroke-width="1.25" stroke-dasharray="4 4"/>
<rect x="149.15" y="250.7" width="7.8" height="7.8" fill="none" stroke="#484848" stroke-width="1.3"/>
<text x="187.1" y="130" font-size="19">CDF</text>
<text x="187.1" y="155.8" font-size="19">Pythia 6.428 350</text>
<text x="187.1" y="181.8" font-size="19">Pythia 6.428 370</text>
<text x="187.1" y="207.8" font-size="19">Pythia 6.428 380</text>
<text x="187.1" y="234.1" font-size="19">Pythia 6.428 p0</text>
<text x="187.1" y="260.2" font-size="19">Pythia 6.428 p2010</text>
</svg>
</body></html>
